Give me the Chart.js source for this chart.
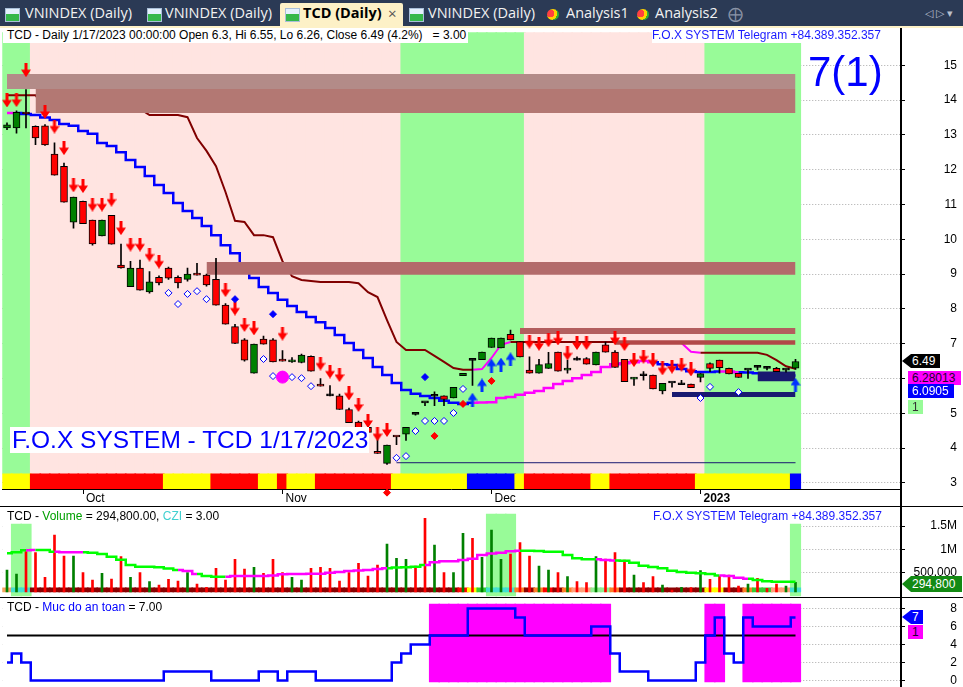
<!DOCTYPE html>
<html>
<head>
<meta charset="utf-8">
<title>TCD (Daily)</title>
<script src="https://cdn.jsdelivr.net/npm/chart.js@4.4.1/dist/chart.umd.min.js"></script>
<style>
  html, body { margin: 0; padding: 0; }
  body { width: 963px; height: 687px; overflow: hidden; position: relative; background: #fff; font-family: "Liberation Sans", Arial, sans-serif; }
  #tabs { position: absolute; left: 0; top: 0; width: 963px; height: 26px; background: #2b3a55; font-family: "Open Sans", sans-serif; font-size: 14.5px; color: #f2f2f2; }
  #tabs span { position: absolute; top: 3px; line-height: 20px; white-space: nowrap; }
  #tabs .ico { width: 13px; height: 12px; top: 8px; background: linear-gradient(#e4f0fc 0 45%, #35b84a 45% 100%); border: 1px solid #a9bfd8; }
  #tabs .heart { width: 12px; height: 11px; top: 9px; border-radius: 50%; background: radial-gradient(circle at 30% 40%, #ff4040 0 35%, #ffd000 36% 60%, #30b030 61%); }
  #tabs .act { left: 280px; top: 3px; width: 123px; height: 23px; background: #fdf1c7; border-radius: 2px 2px 0 0; }
  #ystrip { position: absolute; left: 0; top: 26px; width: 963px; height: 2px; background: #fdf1c7; }
  canvas { position: absolute; left: 0; }
  .t { position: absolute; font-size: 12px; line-height: 15px; white-space: pre; }
  .tag { position: absolute; font-size: 12px; line-height: 14px; height: 14px; white-space: pre; box-sizing: border-box; }
  .ptr { clip-path: polygon(0 50%, 9px 0, 100% 0, 100% 100%, 9px 100%); padding-left: 10px; }
  .ln { position: absolute; background: #000; }
</style>
</head>
<body>
<div id="tabs">
  <span class="ico" style="left:5px"></span><span style="left:25px">VNINDEX (Daily)</span>
  <span class="ico" style="left:147px"></span><span style="left:165px">VNINDEX (Daily)</span>
  <span class="act"></span>
  <span class="ico" style="left:285px"></span><span style="left:303px;color:#000;font-weight:bold">TCD (Daily)</span>
  <span style="left:388px;color:#555;font-size:15px">&#215;</span>
  <span class="ico" style="left:409px"></span><span style="left:428px">VNINDEX (Daily)</span>
  <span class="heart" style="left:547px"></span><span style="left:566px">Analysis1</span>
  <span class="heart" style="left:637px"></span><span style="left:655px">Analysis2</span>
  <span style="left:728px;color:#8a93a6;font-size:15px">&#10753;</span>
  <span style="left:925px;color:#b8bfcc;font-size:11px">&#9665; &#9655; &#9662;</span>
</div>
<div id="ystrip"></div>

<canvas id="price" width="963" height="475" style="top:28px"></canvas>
<canvas id="vol" width="963" height="93" style="top:504px"></canvas>
<canvas id="safe" width="963" height="89" style="top:598px"></canvas>

<div class="ln" style="left:900px;top:28px;width:2px;height:659px"></div>
<div class="ln" style="left:0;top:506px;width:963px;height:1px"></div>
<div class="ln" style="left:0;top:597px;width:963px;height:1px"></div>

<div class="t" style="left:3px;top:28px;background:#fff;padding:0 2px 0 4px">TCD - Daily 1/17/2023 00:00:00 Open 6.3, Hi 6.55, Lo 6.26, Close 6.49 (4.2%)   = 3.00</div>
<div class="t" style="left:652px;top:28px;background:#fff;color:#1a1aff">F.O.X SYSTEM Telegram +84.389.352.357</div>
<div style="position:absolute;left:808px;top:51px;font-size:42px;line-height:42px;color:#0000ff">7(1)</div>
<div style="position:absolute;left:10px;top:427px;height:26px;line-height:26px;font-size:24.5px;padding:0 1px 0 2px;background:#fff;color:#0000ff;white-space:pre">F.O.X SYSTEM - TCD 1/17/2023</div>

<div class="tag ptr" style="left:902px;top:354px;width:38px;background:#000;color:#fff">6.49</div>
<div class="tag" style="left:908px;top:371px;width:53px;padding-left:4px;background:#ff00ff;color:#200030">6.28013</div>
<div class="tag" style="left:908px;top:384px;width:46px;padding-left:4px;background:#0000ff;color:#fff">6.0905</div>
<div class="tag" style="left:908px;top:400px;width:15px;padding-left:4px;background:#98fb98;color:#333">1</div>

<div class="t" style="left:7px;top:509px">TCD - <span style="color:#00a000">Volume</span> = 294,800.00, <span style="color:#40d0d0">CZI</span> = 3.00</div>
<div class="t" style="left:653px;top:509px;color:#1a1aff">F.O.X SYSTEM Telegram +84.389.352.357</div>
<div class="tag ptr" style="left:902px;top:576px;width:60px;height:16px;line-height:16px;background:#138a13;color:#fff">294,800</div>

<div class="t" style="left:7px;top:600px">TCD - <span style="color:#0000ff">Muc do an toan</span> = 7.00</div>
<div class="tag ptr" style="left:902px;top:610px;width:21px;background:#0000ff;color:#fff">7</div>
<div class="tag" style="left:908px;top:625px;width:15px;padding-left:4px;background:#ff00ff;color:#200030">1</div>

<script>
// trading days shown (Sep 21 2022 .. Jan 17 2023)
const sepDays = [21, 22, 23, 26, 27, 28, 29, 30];
const octDays = [3, 4, 5, 6, 7, 10, 11, 12, 13, 14, 17, 18, 19, 20, 21, 24, 25, 26, 27, 28, 31];
const novDays = [1, 2, 3, 4, 7, 8, 9, 10, 11, 14, 15, 16, 17, 18, 21, 22, 23, 24, 25, 28, 29, 30];
const decDays = [1, 2, 5, 6, 7, 8, 9, 12, 13, 14, 15, 16, 19, 20, 21, 22, 23, 26, 27, 28, 29, 30];
const janDays = [3, 4, 5, 6, 9, 10, 11, 12, 13, 16, 17];
const monthLabels = ['Oct', 'Nov', 'Dec', '2023'];

const opens = [13.2, 13.2, 13.65, 13.25, 13.26, 12.45, 12.1, 10.49, 11.09, 10.55,
  10.1, 10.69, 9.26, 8.64, 9.17, 8.49, 8.91, 9.17, 8.91, 8.85,
  8.98, 8.97, 8.85, 8.11, 7.49, 7.11, 6.15, 7.13, 7.11, 6.51,
  6.48, 6.46, 6.64, 5.79, 5.5, 5.5, 5.11, 4.75, 4.6, 3.88,
  3.56, 4.33, 4.4, 4.97, 5.3, 5.49, 5.5, 5.44, 6.08, 6.52,
  6.54, 6.89, 6.88, 7.27, 7.06, 6.24, 6.15, 6.29, 6.76, 6.24,
  6.53, 6.57, 6.39, 6.97, 6.76, 6.55, 5.98, 6.08, 6.1, 5.64,
  5.87, 5.82, 5.84, 6.03, 6.43, 6.53, 6.29, 6.15, 6.24, 6.32,
  6.29, 6.29, 6.24, 6.3];
const highs = [13.35, 13.69, 14.3, 13.26, 13.3, 12.77, 12.19, 11.21, 11.1, 10.55,
  10.55, 10.69, 9.86, 9.37, 9.4, 9.07, 8.95, 9.2, 8.95, 9.17,
  9.31, 9.0, 9.45, 8.15, 7.56, 7.15, 6.99, 7.22, 7.15, 6.8,
  6.6, 6.7, 6.65, 6.0, 5.8, 5.55, 5.15, 4.78, 4.65, 4.3,
  4.09, 4.33, 4.6, 4.98, 5.3, 5.62, 5.5, 5.75, 6.15, 6.54,
  6.76, 7.16, 7.16, 7.39, 7.06, 6.62, 6.55, 6.75, 6.76, 6.53,
  6.62, 6.6, 6.76, 7.05, 6.8, 6.55, 6.03, 6.2, 6.1, 5.86,
  5.87, 5.95, 5.84, 6.14, 6.45, 6.53, 6.3, 6.15, 6.24, 6.35,
  6.32, 6.32, 6.25, 6.55];
const lows = [13.15, 13.05, 13.2, 12.72, 12.7, 11.84, 11.07, 10.32, 10.45, 9.83,
  10.1, 9.86, 9.17, 8.64, 8.54, 8.45, 8.69, 8.85, 8.6, 8.8,
  8.97, 8.65, 8.11, 7.56, 7.0, 6.5, 6.15, 6.99, 6.48, 6.5,
  6.46, 6.45, 6.21, 5.78, 5.5, 5.11, 4.73, 4.4, 4.35, 3.85,
  3.53, 4.1, 4.22, 4.95, 5.22, 5.22, 5.22, 5.44, 6.08, 5.8,
  6.54, 6.89, 6.88, 7.11, 6.62, 6.15, 6.15, 6.29, 6.21, 6.15,
  6.53, 6.41, 6.39, 6.76, 6.32, 5.91, 5.8, 5.95, 5.7, 5.56,
  5.75, 5.82, 5.74, 5.9, 6.2, 6.15, 6.13, 6.03, 6.0, 6.25,
  6.25, 6.2, 6.18, 6.26];
const closes = [13.29, 13.65, 13.6, 12.91, 12.71, 11.84, 11.07, 11.21, 10.45, 9.87,
  10.55, 9.86, 9.18, 9.17, 8.54, 8.78, 8.75, 8.88, 8.75, 9.0,
  8.97, 8.69, 8.11, 7.56, 7.01, 6.53, 6.99, 6.99, 6.48, 6.5,
  6.53, 6.67, 6.21, 5.78, 5.5, 5.11, 4.73, 4.45, 4.45, 3.85,
  4.09, 4.32, 4.6, 4.97, 5.3, 5.49, 5.4, 5.75, 6.15, 6.52,
  6.76, 7.16, 7.16, 7.11, 6.62, 6.15, 6.4, 6.43, 6.21, 6.29,
  6.53, 6.41, 6.76, 6.76, 6.32, 5.91, 6.03, 6.08, 5.7, 5.86,
  5.87, 5.82, 5.74, 6.14, 6.29, 6.31, 6.13, 6.03, 6.24, 6.32,
  6.29, 6.2, 6.24, 6.49];

// trailing lines
const trailBlue = [13.63, 13.63, 13.6, 13.57, 13.5, 13.43, 13.31, 13.26, 13.11, 13.03,
  12.77, 12.68, 12.5, 12.28, 12.08, 11.82, 11.56, 11.33, 11.04, 10.81,
  10.61, 10.38, 10.12, 9.83, 9.6, 9.26, 8.89, 8.63, 8.46, 8.26,
  8.08, 7.91, 7.77, 7.62, 7.45, 7.25, 7.02, 6.82, 6.59, 6.33,
  6.1, 5.87, 5.67, 5.56, 5.5, 5.44, 5.36, 5.3, 5.27, 5.3,
  5.31, 5.32, 5.44, 5.47, 5.53, 5.59, 5.64, 5.73, 5.84, 5.93,
  6.01, 6.1, 6.19, 6.33, 6.41, 6.44, 6.47, 6.5, 6.47, 6.41,
  6.39, 6.27, 6.21, 6.19, 6.19, 6.2, 6.2, 6.18, 6.17, 6.15,
  6.13, 6.12, 6.1, 6.09];
const trailBlueUp = [1, 0, 0, 0, 0, 0, 0, 0, 0, 0, 0, 0, 0, 0, 0, 0, 0, 0, 0, 0,
  0, 0, 0, 0, 0, 0, 0, 0, 0, 0, 0, 0, 0, 0, 0, 0, 0, 0, 0, 0,
  0, 0, 0, 0, 0, 0, 0, 0, 0, 1, 1, 1, 1, 1, 1, 1, 1, 1, 1, 1,
  1, 1, 1, 1, 1, 1, 1, 1, 0, 0, 0, 0, 0, 0, 0, 1, 1, 0, 0, 0,
  0, 0, 0, 0];
const trailRed = [14.14, 14.14, 14.14, 14.14, 13.75, 13.75, 13.75, 13.75, 13.75, 13.75,
  13.75, 13.75, 13.75, 13.75, 13.75, 13.57, 13.57, 13.57, 13.57, 13.51,
  12.91, 12.54, 12.1, 11.36, 10.53, 10.5, 10.12, 10.12, 10.06, 9.37,
  8.94, 8.83, 8.8, 8.77, 8.77, 8.77, 8.77, 8.74, 8.48, 8.34,
  7.68, 7.05, 6.82, 6.82, 6.82, 6.65, 6.48, 6.3, 6.25, 6.25,
  6.27, 6.59, 6.97, 7.05, 7.05, 7.05, 7.05, 7.05, 7.05, 7.05,
  7.05, 7.05, 7.05, 7.05, 7.05, 7.02, 7.02, 7.02, 7.02, 7.02,
  7.02, 7.02, 6.77, 6.74, 6.74, 6.74, 6.74, 6.74, 6.74, 6.74,
  6.68, 6.53, 6.35, 6.28];
const trailRedUp = [0, 0, 0, 0, 0, 0, 0, 0, 0, 0, 0, 0, 0, 0, 0, 0, 0, 0, 0, 0,
  0, 0, 0, 0, 0, 0, 0, 0, 0, 0, 0, 0, 0, 0, 0, 0, 0, 0, 0, 0,
  0, 0, 0, 0, 0, 0, 0, 0, 0, 1, 1, 1, 1, 0, 0, 0, 0, 0, 0, 0,
  0, 0, 0, 0, 0, 0, 0, 0, 0, 0, 0, 1, 1, 0, 0, 0, 0, 0, 0, 0,
  0, 0, 0, 0];

// supply / support zones: first bar, low, high
const bandStart = [0, 3, 21, 54, 64, 70, 79];
const bandLow = [14.32, 13.63, 8.98, 7.28, 6.97, 5.47, 5.92];
const bandHigh = [14.75, 14.32, 9.35, 7.45, 7.1, 5.61, 6.2];
const floorStart = 41;
const floorLevel = 3.58;

// background regimes (green ranges, rest pink) and signal strip
const greenFrom = [0, 42, 74];
const greenTo = [2, 54, 83];
const signalStrip = ('YYY' + 'RRRRRRRRRRRRRR' + 'YYYYY' + 'RRRRR' + 'YY' + 'R' + 'YYY' + 'RRRRRRRR' +
  'YYYYYYYY' + 'BBBBB' + 'Y' + 'RRRRRRR' + 'YY' + 'RRRRRRRRR' + 'YYYYYYYYYY' + 'B').split('');

// markers: [bar, price]
const sellArrows = [[0, 13.99], [1, 14.0], [2, 14.86], [4, 13.66], [5, 13.24], [6, 12.62], [7, 11.55], [8, 11.53],
  [9, 11.0], [10, 11.0], [11, 11.14], [12, 10.32], [13, 9.85], [14, 9.85], [15, 9.56], [16, 9.36],
  [23, 8.54], [24, 8.01], [25, 7.54], [26, 7.44], [29, 7.29], [33, 6.43], [34, 6.2], [35, 6.1],
  [36, 5.57], [37, 5.24], [38, 4.78], [39, 4.4], [40, 4.52], [55, 7.06], [56, 7.0], [57, 7.1],
  [58, 7.15], [59, 6.72], [60, 7.02], [61, 7.02], [64, 7.16], [65, 6.99], [66, 6.53], [67, 6.63],
  [68, 6.52], [69, 6.29], [70, 6.34], [71, 6.4], [72, 6.26]];
const buyArrows = [[49, 5.39], [50, 5.8], [51, 6.37], [52, 6.4], [53, 6.55], [83, 5.82]];
const hollowDiamonds = [[17, 8.46], [18, 8.14], [19, 8.43], [20, 8.51], [21, 8.28], [27, 6.56], [28, 6.07],
  [30, 6.04], [31, 6.01], [32, 5.78], [41, 3.72], [42, 3.77], [43, 4.49], [44, 4.78], [45, 4.78],
  [46, 4.78], [47, 5.01], [48, 5.7], [73, 5.44], [74, 5.76], [77, 5.61]];
const blueDiamonds = [[24, 8.28], [28, 7.85], [44, 6.04]];
const redDiamonds = [[40, 2.72], [45, 4.35], [48, 5.27], [51, 5.93]];
const pinkDots = [[29, 6.04]];

// volume pane
const volumes = [558000, 472000, 951000, 930000, 401000, 1309000, 858000, 858000, 501000, 343000,
  486000, 365000, 844000, 401000, 501000, 308000, 236000, 358000, 322000, 501000,
  258000, 186000, 594000, 343000, 787000, 579000, 615000, 486000, 787000, 501000,
  401000, 343000, 594000, 615000, 594000, 322000, 501000, 701000, 429000, 665000,
  1116000, 808000, 787000, 644000, 1667000, 1094000, 501000, 501000, 1345000, 1237000,
  830000, 1416000, 787000, 901000, 1144000, 858000, 644000, 558000, 501000, 415000,
  308000, 286000, 844000, 794000, 930000, 773000, 451000, 286000, 415000, 236000,
  129000, 186000, 179000, 544000, 358000, 429000, 451000, 215000, 258000, 379000,
  165000, 258000, 215000, 294800];
const volumeUp = [1, 1, 0, 0, 0, 0, 0, 1, 0, 0, 1, 0, 0, 1, 0, 1, 0, 0, 0, 1,
  0, 0, 0, 0, 0, 0, 1, 0, 0, 0, 1, 1, 0, 0, 0, 0, 0, 0, 0, 0,
  1, 1, 1, 0, 0, 1, 0, 1, 1, 0, 1, 1, 1, 0, 0, 0, 1, 1, 0, 1,
  0, 0, 1, 0, 0, 0, 1, 0, 0, 1, 0, 1, 0, 1, 0, 0, 0, 0, 1, 0,
  0, 0, 1, 1];
const volumeAvg = [915000, 940000, 980000, 987000, 987000, 950000, 937000, 937000, 937000, 930000,
  900000, 844000, 780000, 665000, 630000, 630000, 615000, 590000, 560000, 537000,
  472000, 430000, 415000, 415000, 429000, 429000, 429000, 429000, 440000, 465000,
  472000, 472000, 480000, 480000, 500000, 515000, 537000, 545000, 560000, 580000,
  594000, 610000, 615000, 630000, 665000, 723000, 744000, 744000, 770000, 800000,
  880000, 910000, 930000, 960000, 973000, 973000, 965000, 951000, 951000, 880000,
  808000, 787000, 790000, 775000, 760000, 758000, 715000, 650000, 620000, 594000,
  544000, 515000, 501000, 490000, 472000, 440000, 429000, 390000, 370000, 343000,
  315000, 308000, 308000, 308000];
const volumeAvgRising = [1, 1, 0, 1, 1, 0, 0, 0, 1, 1, 1, 1, 1, 1, 1, 1, 1, 1, 0, 0,
  1, 1, 1, 0, 0, 0, 0, 0, 0, 0, 0, 0, 0, 0, 0, 0, 0, 0, 0, 0,
  1, 1, 1, 1, 0, 0, 0, 0, 0, 0, 0, 0, 0, 0, 1, 1, 1, 1, 1, 1,
  1, 1, 0, 0, 1, 1, 1, 1, 1, 1, 1, 1, 1, 1, 1, 0, 0, 0, 1, 1,
  1, 1, 1, 1];
const flowStrip = ('o' + 'cc' + 'ddddddddddddddddddddddddddddddddddddddddddddd' + 'r' + 'y' + 'g' + 'ccc' +
  'O' + 'd' + 'O' + 'r' + 'd' + 'O' + 'pp' + 'll' + 'O' + 'ddddddddd' + 'yy' + 'dd' + 'O' + 'gg' + 'pp' + 'c').split('');
const volZoneBars = [1, 2, 51, 52, 53, 83];
const volZoneTop = [1545000, 1545000, 1760000, 1760000, 1760000, 1545000];

// safety level pane
const safety = [2, 3, 2, 0, 0, 0, 0, 0, 0, 0, 0, 0, 0, 0, 0, 0, 0, 1, 1, 1,
  1, 1, 0, 0, 0, 0, 0, 1, 1, 0, 1, 1, 1, 0, 0, 0, 0, 0, 0, 0,
  0, 2, 3, 4, 4, 5, 5, 5, 5, 8, 8, 8, 8, 8, 7, 5, 5, 5, 5, 5,
  5, 5, 6, 6, 3, 1, 1, 1, 0, 0, 0, 0, 0, 2, 5, 7, 3, 2, 7, 6,
  6, 6, 6, 7];
const safetyLine = 5;
const safeFrom = [45, 74, 78];
const safeTo = [63, 75, 83];

const priceTicks = [3, 4, 5, 6, 7, 8, 9, 10, 11, 12, 13, 14, 15];
const volumeTicks = [500000, 1000000, 1500000];
const volumeTickLabels = ['500,000', '1M', '1.5M'];
const safetyTicks = [0, 2, 4, 6, 8];

// ---------------------------------------------------------------
const tradeDates = [].concat(
  sepDays.map(d => '2022-09-' + d), octDays.map(d => '2022-10-' + d),
  novDays.map(d => '2022-11-' + d), decDays.map(d => '2022-12-' + d),
  janDays.map(d => '2023-01-' + d));
const idx = tradeDates.map((d, i) => i);
const lastBar = idx.length - 1;
const monthStarts = idx.filter(i => i > 0 && tradeDates[i].slice(0, 7) !== tradeDates[i - 1].slice(0, 7));

const FONT = '"Liberation Sans", Arial, sans-serif';
Chart.defaults.font.family = FONT;
Chart.defaults.font.size = 12;
Chart.defaults.color = '#000';

const SLOT = 10.5;
const GRID = '#a8a8a8';

// right axis: 57px wide + 6px page margin so the plot ends at x=900 and labels end at x=957
function fitY(scale) { scale.width = 57; scale.paddingTop = 0; scale.paddingBottom = 0; }
function pts(list) { return list.map(p => ({ x: p[0], y: p[1] })); }
function inRanges(i, from, to) { return from.some((f, k) => i >= f && i <= to[k]); }

function arrowImage(color, up) {
  const c = document.createElement('canvas');
  c.width = 10; c.height = 14;
  const g = c.getContext('2d');
  const shape = [[3.5, 0], [6.5, 0], [6.5, 6.5], [10, 6.5], [5, 14], [0, 6.5], [3.5, 6.5]];
  g.fillStyle = color;
  g.beginPath();
  shape.forEach(([px, py], k) => {
    const yy = up ? 14 - py : py;
    if (k) g.lineTo(px, yy); else g.moveTo(px, yy);
  });
  g.closePath();
  g.fill();
  return c;
}

// hides horizontal grid where bars are drawn (AmiBroker shows it only in the blank area)
const gridMask = {
  id: 'gridMask',
  beforeDatasetsDraw(chart, args, opts) {
    if (opts.upTo == null) return;
    const { ctx, chartArea, scales } = chart;
    const r = scales.x.getPixelForValue(opts.upTo);
    ctx.save();
    ctx.fillStyle = '#fff';
    ctx.fillRect(chartArea.left, chartArea.top, r - chartArea.left, chartArea.bottom - chartArea.top);
    ctx.restore();
  }
};

function xScale(show) {
  const x = {
    type: 'linear', min: -0.5, max: 94, offset: false, display: show,
    grid: { offset: false, drawOnChartArea: false, tickLength: 5, color: '#000', tickColor: '#000' },
    border: { display: true, color: '#000' },
    afterBuildTicks: s => { s.ticks = monthStarts.map(v => ({ value: v })); },
    ticks: {
      autoSkip: false, maxRotation: 0, align: 'start', labelOffset: 3, padding: -3,
      callback: v => monthLabels[monthStarts.indexOf(v)] || '',
      font: ctx => ({ family: FONT, size: 12, weight: ctx.tick && ctx.tick.value === monthStarts[3] ? 'bold' : 'normal' })
    }
  };
  if (show) x.afterFit = s => { s.height = 14; s.paddingLeft = 0; s.paddingRight = 0; };
  return x;
}

function yScale(min, max, ticks, labels) {
  return {
    position: 'right', min: min, max: max,
    afterBuildTicks: s => { s.ticks = ticks.map(v => ({ value: v })); },
    afterFit: fitY,
    grid: { color: GRID, tickColor: '#000', tickLength: 5 },
    border: { display: false, dash: [1, 2] },
    ticks: {
      crossAlign: 'far', padding: 4, color: '#000', font: { size: 12 },
      callback: v => labels ? labels[ticks.indexOf(v)] : String(v)
    }
  };
}

function baseOptions(x, y, pad, mask) {
  return {
    responsive: false, animation: false, events: [], devicePixelRatio: 1,
    layout: { padding: Object.assign({ right: 6 }, pad), autoPadding: false },
    plugins: { legend: { display: false }, tooltip: { enabled: false }, gridMask: { upTo: mask } },
    scales: { x: x, y: y }
  };
}

// ---------------- price pane ----------------
const ZONE_LO = 3.26, ZONE_HI = 15.94, STRIP_LO = 2.825;
const stripColors = { Y: '#ffff00', R: '#ff0000', B: '#0000ff' };
const bandColors = ['#b38b88', '#b37873', '#b36b6b', '#b35e5e', '#b14848', '#191970', '#191970'];

const priceSets = [
  { type: 'bar', data: idx.map(() => [ZONE_LO, ZONE_HI]), grouped: false, barThickness: SLOT, order: 100,
    backgroundColor: idx.map(i => inRanges(i, greenFrom, greenTo) ? '#98fb98' : '#ffe4e1') },
  { type: 'bar', data: idx.map(() => [STRIP_LO, ZONE_LO]), grouped: false, barThickness: SLOT, order: 99,
    backgroundColor: signalStrip.map(c => stripColors[c]) },
  { type: 'line', data: trailBlue, borderColor: '#0000ff', borderWidth: 2.5, stepped: 'middle', pointRadius: 0, order: 80,
    segment: { borderColor: c => trailBlueUp[c.p0DataIndex] ? '#ff00ff' : '#0000ff' } },
  { type: 'line', data: trailRed, borderColor: '#800000', borderWidth: 2, pointRadius: 0, order: 79,
    segment: { borderColor: c => trailRedUp[c.p0DataIndex] ? '#ff00ff' : '#800000' } },
  { type: 'line', data: [{ x: floorStart, y: floorLevel }, { x: lastBar, y: floorLevel }], borderColor: '#191970',
    borderWidth: 1, pointRadius: 0, order: 78 }
];
bandStart.forEach((s, k) => priceSets.push({
  type: 'line', data: [{ x: s, y: bandHigh[k] }, { x: lastBar, y: bandHigh[k] }], borderWidth: 0,
  borderColor: bandColors[k], backgroundColor: bandColors[k], fill: { value: bandLow[k] }, pointRadius: 0, order: 70
}));
priceSets.push(
  { type: 'bar', data: idx.map(i => [lows[i], highs[i]]), grouped: false, barThickness: 1, backgroundColor: '#000', order: 20 },
  { type: 'bar', data: idx.map(i => [opens[i], closes[i]]), grouped: false, barThickness: 7, order: 15,
    borderColor: '#000', borderWidth: 1, borderSkipped: false, minBarLength: 2,
    backgroundColor: idx.map(i => closes[i] > opens[i] ? '#008000' : closes[i] < opens[i] ? '#ff0000' : '#000') },
  { type: 'line', data: pts(sellArrows), showLine: false, pointStyle: arrowImage('#ff0000', false), order: 4 },
  { type: 'line', data: pts(buyArrows), showLine: false, pointStyle: arrowImage('#0033ff', true), order: 4 },
  { type: 'line', data: pts(hollowDiamonds), showLine: false, pointStyle: 'rectRot', pointRadius: 3.5,
    pointBorderColor: '#0000ff', pointBackgroundColor: '#fff', pointBorderWidth: 1, order: 3 },
  { type: 'line', data: pts(blueDiamonds), showLine: false, pointStyle: 'rectRot', pointRadius: 3.5,
    pointBorderColor: '#0000ff', pointBackgroundColor: '#0000ff', order: 3 },
  { type: 'line', data: pts(redDiamonds), showLine: false, pointStyle: 'rectRot', pointRadius: 3.5, clip: false,
    pointBorderColor: '#ff0000', pointBackgroundColor: '#ff0000', order: 3 },
  { type: 'line', data: pts(pinkDots), showLine: false, pointStyle: 'circle', pointRadius: 6,
    pointBorderColor: '#ff00ff', pointBackgroundColor: '#ff00ff', order: 2 }
);

new Chart(document.getElementById('price'), {
  type: 'bar',
  data: { labels: idx, datasets: priceSets },
  options: baseOptions(xScale(true), yScale(STRIP_LO, 16.072, priceTicks, null), { left: 2.25 }, null),
  plugins: [gridMask]
});

// ---------------- volume pane ----------------
const flowColors = { o: '#f4a460', c: '#40e0d0', d: '#8b0000', r: '#ff0000', y: '#ffff00', g: '#32cd32',
  O: '#ff7f27', p: '#ffa07a', l: '#90ee90' };
const VOL_BASE = 90000, VOL_STRIP = 178000;

new Chart(document.getElementById('vol'), {
  type: 'bar',
  data: {
    labels: idx,
    datasets: [
      { data: volZoneBars.map((b, k) => ({ x: b, y: [0, volZoneTop[k]] })), grouped: false, barThickness: SLOT,
        backgroundColor: '#98fb98', order: 10 },
      { data: idx.map(() => [VOL_BASE, VOL_STRIP]), grouped: false, barThickness: SLOT, order: 8,
        backgroundColor: flowStrip.map(c => flowColors[c]) },
      { data: volumes, base: VOL_BASE, grouped: false, barThickness: 2, order: 6,
        backgroundColor: volumeUp.map(u => u ? '#008000' : '#ff0000') },
      { type: 'line', data: volumeAvg, borderColor: '#00ff00', borderWidth: 2.5, stepped: 'middle', pointRadius: 0, order: 2,
        segment: { borderColor: c => volumeAvgRising[c.p0DataIndex] ? '#00ff00' : '#ff00ff' } }
    ]
  },
  options: baseOptions(xScale(false), yScale(-21459, 1909851, volumeTicks, volumeTickLabels), { left: 2.25, top: 3 }, lastBar + 0.5),
  plugins: [gridMask]
});

// ---------------- safety pane ----------------
new Chart(document.getElementById('safe'), {
  type: 'bar',
  data: {
    labels: idx,
    datasets: [
      { data: idx.map(i => inRanges(i, safeFrom, safeTo) ? [-0.17, 8.5] : null), grouped: false, barThickness: SLOT,
        backgroundColor: '#ff00ff', order: 10 },
      { type: 'line', data: [{ x: 0, y: safetyLine }, { x: lastBar, y: safetyLine }], borderColor: '#000',
        borderWidth: 2, pointRadius: 0, order: 5 },
      { type: 'line', data: safety, borderColor: '#0000ff', borderWidth: 2.5, stepped: 'middle', pointRadius: 0, order: 2 }
    ]
  },
  options: baseOptions(xScale(false), yScale(-0.722, 9.167, safetyTicks, null), { left: 2.25 }, lastBar + 0.5),
  plugins: [gridMask]
});
</script>
</body>
</html>
